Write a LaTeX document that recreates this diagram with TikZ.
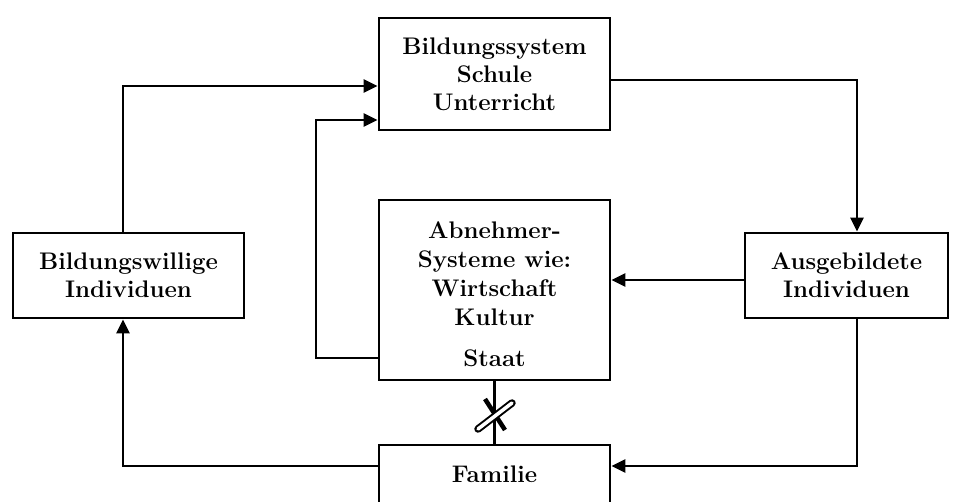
\documentclass[tikz,border=0pt]{standalone}
\usetikzlibrary{arrows.meta}
\begin{document}
\begin{tikzpicture}[x=1pt,y=-1pt,
  txt/.style={align=center,font=\fontsize{24}{28}\selectfont\bfseries},
  box/.style={draw,line width=2.8pt,rectangle,inner sep=0pt,txt},
  arr/.style={line width=2.8pt,-{Triangle[length=14pt,width=13pt]}},
  ln/.style={line width=2.8pt}]
\useasboundingbox (0,0) rectangle (963,502);
\node[box,minimum width=231pt,minimum height=112pt] (bs) at (494.5,74) {Bildungssystem\\Schule\\Unterricht};
\node[box,minimum width=231pt,minimum height=180pt] (ab) at (494.5,290) {};
\node[txt,font=\fontsize{24}{29}\selectfont\bfseries] (abt) at (494.5,294) {Abnehmer-\\Systeme wie:\\Wirtschaft\\Kultur\\[12pt]Staat};
\node[box,minimum width=231pt,minimum height=85pt] (bw) at (128.5,275.5) {Bildungswillige\\Individuen};
\node[box,minimum width=203pt,minimum height=85pt] (ag) at (846.5,275.5) {Ausgebildete\\Individuen};
\node[box,minimum width=231pt,minimum height=72pt] (fa) at (494.5,481) {};
\node[txt] (fat) at (494.5,474) {Familie};
\draw[arr] (bw.north -| 123,0) |- (bs.west |- 0,86);
\draw[arr] (ab.west |- 0,358) -- (316,358) |- (bs.west |- 0,120);
\draw[arr] (bs.east |- 0,80) -| (ag.north -| 857,0);
\draw[arr] (ag.west |- 0,280) -- (ab.east |- 0,280);
\draw[arr] (ag.south -| 857,0) |- (fa.east |- 0,466);
\draw[arr] (fa.west |- 0,466) -| (bw.south -| 123,0);
\draw[ln] (ab.south) -- (fa.north);
\coordinate (c1) at (485,399);
\coordinate (c2) at (505,430);
\coordinate (c3) at (478,429);
\coordinate (c4) at (512,403);
\draw[line width=4.5pt] (c1) -- (c2);
\draw[line width=2pt,double=white,double distance=3.5pt,line cap=round] (c3) -- (c4);
\end{tikzpicture}
\end{document}
